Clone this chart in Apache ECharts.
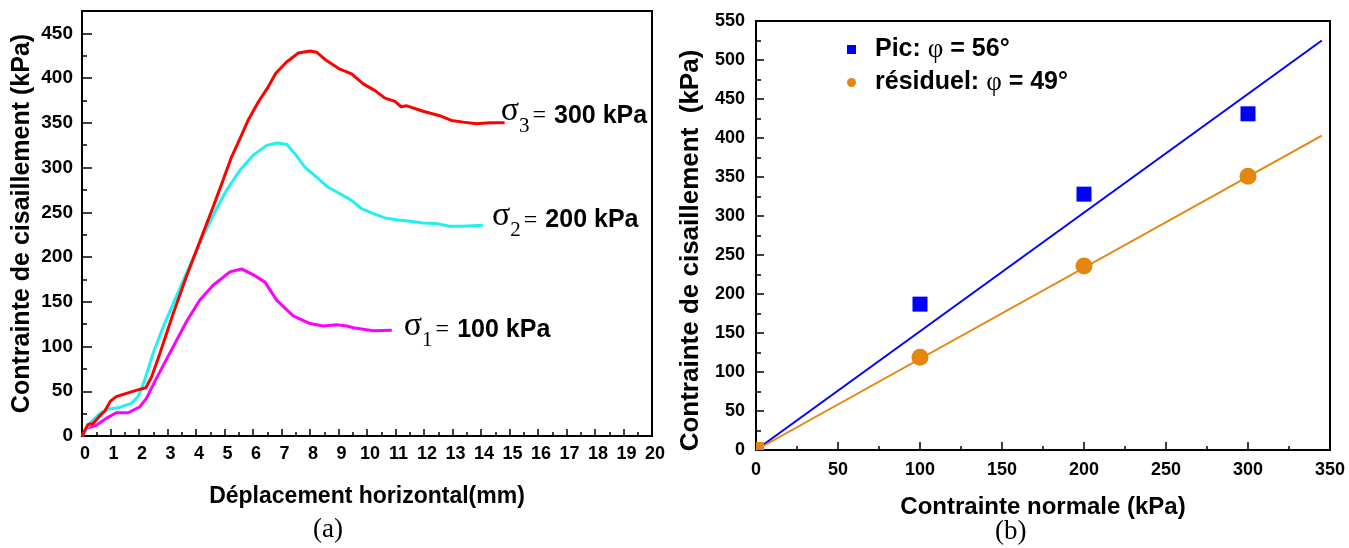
<!DOCTYPE html>
<html>
<head>
<meta charset="utf-8">
<script src="https://cdn.jsdelivr.net/npm/echarts@6/dist/echarts.min.js"></script>
<style>
html,body{margin:0;padding:0;background:#fff;}
#main{width:1349px;height:548px;}
</style>
</head>
<body>
<div id="main"></div>
<script>
// ---------- Data (a): shear stress vs horizontal displacement ----------
const disp_s1 = [0,0.15,0.5,0.85,1.2,1.62,2.03,2.26,2.61,3.2,3.66,4.13,4.6,5.19,5.6,6.0,6.42,6.83,7.41,8.0,8.47,8.93,9.29,9.52,10.22,10.87];
const tau_s1  = [0,8.5,12,19.7,26,26,32.7,42,64.4,99.7,127.6,151.8,168.5,183.4,186.8,180.4,172,151.8,134.3,125.7,123,124.3,123,121,117.6,118.3];

const disp_s2 = [0,0.27,0.62,0.91,1.32,1.73,1.97,2.2,2.49,2.85,3.2,3.66,4.13,4.6,5.07,5.54,6.0,6.48,6.83,7.18,7.47,7.82,8.23,8.64,9.05,9.46,9.81,10.22,10.63,11.04,11.51,11.97,12.43,12.9,13.37,14.07];
const tau_s2  = [0,14,25,30,32,36.5,44,62.5,92,122,148,181.5,215,246.7,274.6,297,313.6,324.8,327.4,326,315.5,300.6,289.4,278,270.8,263.4,254,248.5,243.7,241.8,240,238,237.4,234.4,234.4,235.5];

const disp_s3 = [0,0.21,0.39,0.6,0.8,1.0,1.2,1.56,1.9,2.24,2.44,2.73,3.2,3.66,4.13,4.6,4.95,5.25,5.54,5.83,6.18,6.53,6.8,7.18,7.59,8.0,8.23,8.58,9.05,9.46,9.87,10.28,10.63,10.98,11.2,11.4,11.97,12.55,12.96,13.38,13.84,14.3,14.83];
const tau_s3  = [0,13,14,21.6,28,39,44,47.6,51,54,66,92,137,178,217,256,286,312,332,353,373,390,405.5,418,428,430.4,429,419.6,410,404.8,393.6,386,377.6,374,368,369,363,358,352.7,350.8,349,350,350];

const curveLabels = [
  {sub:'1', text:'100 kPa'},
  {sub:'2', text:'200 kPa'},
  {sub:'3', text:'300 kPa'}
];

// ---------- Data (b): Mohr-Coulomb envelopes ----------
const normalStress = [0, 100, 200, 300];
const peakTau      = [null, 187, 328, 431];
const residualTau  = [0, 119, 236, 351];
const fitX         = [0, 345];
const peakFitY     = [0, 525];
const residualFitY = [0, 403];

const xTicksA = [0,20,1];
const yTicksA = [0,475,50];
const xTicksB = [0,350,50];
const yTicksB = [0,550,50];

// ---------- helpers ----------
const SANS = '"Liberation Sans", Arial, Helvetica, sans-serif';
const SERIF = '"Liberation Serif", "Times New Roman", serif';
function zip(a,b){ return a.map((v,i)=>[v,b[i]]); }

function axisCommon(extra){
  return Object.assign({
    type:'value',
    splitLine:{show:false},
    axisLine:{show:true, onZero:false, lineStyle:{color:'#000', width:2}},
    axisTick:{show:true, inside:true, length:8, lineStyle:{color:'#000', width:1.5}},
    minorTick:{show:true, splitNumber:2, length:4, lineStyle:{color:'#000', width:1.5}},
    axisLabel:{color:'#000', fontFamily:SANS, fontWeight:'bold', fontSize:18},
    nameLocation:'middle',
    nameTextStyle:{color:'#000', fontFamily:SANS, fontWeight:'bold', fontSize:23}
  }, extra);
}

function endLabel(i, dx, dy){
  const c = curveLabels[i];
  return {
    show:true, distance:0, offset:[dx,dy],
    formatter:'{s|σ}{sub|'+c.sub+'}{eq|=}{t|'+c.text+'}',
    rich:{
      s:{fontFamily:SERIF, fontSize:34, color:'#000', padding:[0,0,9,0]},
      sub:{fontFamily:SERIF, fontSize:21, color:'#000', padding:[21,0,0,0]},
      eq:{fontFamily:SERIF, fontSize:24, color:'#000', padding:[0,8,0,3]},
      t:{fontFamily:SANS, fontSize:25, fontWeight:'bold', color:'#000'}
    }
  };
}

// residual point at the origin is drawn as a small clipped marker inside the frame
const residualData = zip(normalStress,residualTau).map(d =>
  (d[0]===0 && d[1]===0) ? {value:d, symbol:'rect', symbolSize:8, symbolOffset:[4,-4]} : d);

const chart = echarts.init(document.getElementById('main'), null, {renderer:'canvas'});
const option = {
  animation:false,
  backgroundColor:'#fff',
  grid:[
    {left:82, top:11, width:570, height:425, show:true, borderColor:'#000', borderWidth:2, backgroundColor:'transparent'},
    {left:756, top:21, width:574, height:429, show:true, borderColor:'#000', borderWidth:2, backgroundColor:'transparent'}
  ],
  xAxis:[
    axisCommon({gridIndex:0, min:xTicksA[0], max:xTicksA[1], interval:xTicksA[2],
      axisTick:{show:true, inside:true, length:7, lineStyle:{color:'#000', width:1.5}},
      axisLabel:{color:'#000', fontFamily:SANS, fontWeight:'bold', fontSize:18, margin:9, padding:[0,0,0,6]},
      name:'Déplacement horizontal(mm)', nameGap:49}),
    axisCommon({gridIndex:1, min:xTicksB[0], max:xTicksB[1], interval:xTicksB[2],
      axisLabel:{color:'#000', fontFamily:SANS, fontWeight:'bold', fontSize:18, margin:11},
      name:'Contrainte normale (kPa)', nameGap:45,
      nameTextStyle:{color:'#000', fontFamily:SANS, fontWeight:'bold', fontSize:24}})
  ],
  yAxis:[
    axisCommon({gridIndex:0, min:yTicksA[0], max:yTicksA[1], interval:yTicksA[2],
      axisTick:{show:true, inside:true, length:10, lineStyle:{color:'#000', width:1.5}},
      minorTick:{show:true, splitNumber:2, length:5, lineStyle:{color:'#000', width:1.5}},
      axisLabel:{color:'#000', fontFamily:SANS, fontWeight:'bold', fontSize:19, margin:9,
        formatter:v=> (v % 50 === 0 ? String(v) : '')},
      name:'Contrainte de cisaillement (kPa)', nameGap:47,
      nameTextStyle:{color:'#000', fontFamily:SANS, fontWeight:'bold', fontSize:25}}),
    axisCommon({gridIndex:1, min:yTicksB[0], max:yTicksB[1], interval:yTicksB[2],
      axisTick:{show:true, inside:true, length:8, lineStyle:{color:'#000', width:1.5}},
      minorTick:{show:true, splitNumber:2, length:5, lineStyle:{color:'#000', width:1.5}},
      axisLabel:{color:'#000', fontFamily:SANS, fontWeight:'bold', fontSize:18, margin:11},
      name:'Contrainte de cisaillement  (kPa)', nameGap:52,
      nameTextStyle:{color:'#000', fontFamily:SANS, fontWeight:'bold', fontSize:26, padding:[0,30,0,0]}})
  ],
  legend:{
    data:['Pic','résiduel'],
    orient:'vertical', left:842, top:31,
    itemWidth:9, itemHeight:9, itemGap:6,
    selectedMode:false,
    formatter:function(name){
      return name==='Pic' ? '{b|Pic: }{p|φ}{b| = 56°}' : '{b|résiduel: }{p|φ}{b| = 49°}';
    },
    textStyle:{padding:[0,0,0,14], rich:{
      b:{fontFamily:SANS, fontWeight:'bold', fontSize:25, color:'#000', lineHeight:27},
      p:{fontFamily:SERIF, fontSize:27, color:'#000', lineHeight:27}
    }}
  },
  series:[
    {type:'line', xAxisIndex:0, yAxisIndex:0, data:zip(disp_s1,tau_s1), showSymbol:false,
      lineStyle:{color:'#ff00ff', width:3}, itemStyle:{color:'#ff00ff'}, endLabel:endLabel(0,12,0)},
    {type:'line', xAxisIndex:0, yAxisIndex:0, data:zip(disp_s2,tau_s2), showSymbol:false,
      lineStyle:{color:'#22f0f0', width:3}, itemStyle:{color:'#22f0f0'}, endLabel:endLabel(1,9,-5)},
    {type:'line', xAxisIndex:0, yAxisIndex:0, data:zip(disp_s3,tau_s3), showSymbol:false,
      lineStyle:{color:'#ff0000', width:3}, itemStyle:{color:'#ff0000'}, endLabel:endLabel(2,-4,-7)},
    {type:'line', xAxisIndex:1, yAxisIndex:1, data:zip(fitX,peakFitY), showSymbol:false, silent:true,
      lineStyle:{color:'#0000ff', width:2}, z:2},
    {type:'line', xAxisIndex:1, yAxisIndex:1, data:zip(fitX,residualFitY), showSymbol:false, silent:true,
      lineStyle:{color:'#e3870e', width:2}, z:2},
    {name:'Pic', type:'scatter', xAxisIndex:1, yAxisIndex:1,
      data:zip(normalStress,peakTau).filter(d=>d[1]!==null),
      symbol:'rect', symbolSize:15, itemStyle:{color:'#0000ff', opacity:1}, z:3},
    {name:'résiduel', type:'scatter', xAxisIndex:1, yAxisIndex:1,
      data:residualData, symbol:'circle', symbolSize:17,
      itemStyle:{color:'#e3870e', opacity:1}, z:4}
  ],
  graphic:[
    {type:'text', left:313, top:516, style:{text:'(a)', font:'27px '+SERIF, fill:'#000'}},
    {type:'text', left:995, top:518, style:{text:'(b)', font:'27px '+SERIF, fill:'#000'}}
  ]
};
chart.setOption(option);
</script>
</body>
</html>
